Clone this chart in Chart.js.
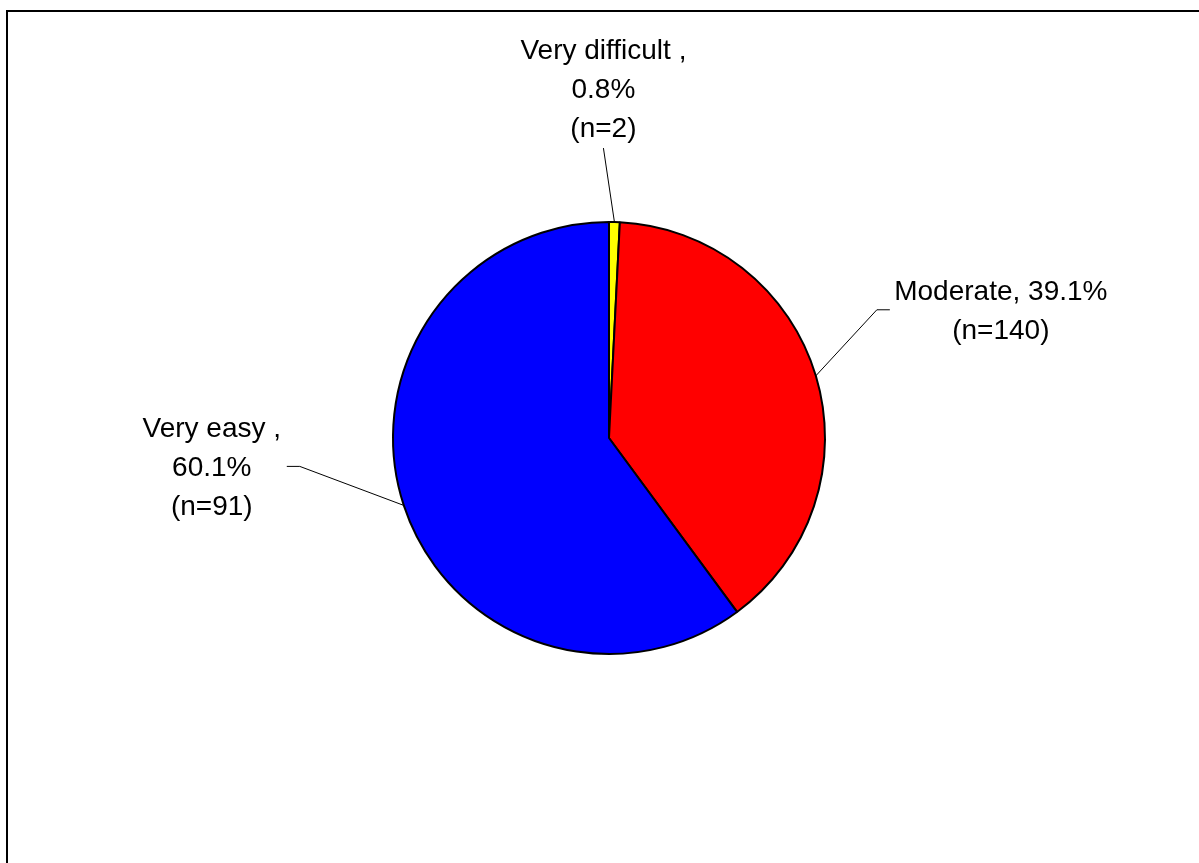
<!DOCTYPE html>
<html>
<head>
<meta charset="utf-8">
<title>Difficulty pie</title>
<script src="https://cdn.jsdelivr.net/npm/chart.js@4/dist/chart.umd.min.js"></script>
<style>
    html, body { margin: 0; padding: 0; background: #fff; }
    #chart { display: block; }
</style>
</head>
<body>
<canvas id="chart" width="1199" height="863"></canvas>
<script>
// Data (clockwise from 12 o'clock)
const categories = ['Very difficult', 'Moderate', 'Very easy'];
const percents = [0.8, 39.1, 60.1];
const counts = [2, 140, 91];
const sliceColors = ['#FFFF00', '#FF0000', '#0000FF'];

// How each label is split over lines
const labelLines = [
    ['Very difficult ,', '0.8%', '(n=2)'],
    ['Moderate, 39.1%', '(n=140)'],
    ['Very easy ,', '60.1%', '(n=91)']
];

// Leader/label placement, relative to the point where the slice's mid-angle meets the rim
// text = centre of the whole text block
const labelLayout = [
    { elbow: [-11, -74], tail: 0,   text: [-11, -132] },
    { elbow: [61, -66],  tail: 13,  text: [185, -64] },
    { elbow: [-104, -39], tail: -13, text: [-192, -37] }
];

const LINE_GAP = 39;
const FONT = '28px "Liberation Sans", Arial, sans-serif';

const frameAndLabels = {
    id: 'frameAndLabels',
    beforeDraw(chart) {
        const ctx = chart.ctx;
        ctx.save();
        ctx.fillStyle = '#fff';
        ctx.fillRect(0, 0, chart.width, chart.height);
        // outer frame, its right and bottom edges run off the picture
        ctx.strokeStyle = '#000';
        ctx.lineWidth = 2;
        ctx.strokeRect(7, 11, chart.width + 50, chart.height + 50);
        ctx.restore();
    },
    afterDraw(chart) {
        const ctx = chart.ctx;
        const arcs = chart.getDatasetMeta(0).data;
        ctx.save();
        ctx.font = FONT;
        ctx.fillStyle = '#000';
        ctx.strokeStyle = '#000';
        ctx.lineWidth = 1;
        ctx.textAlign = 'center';
        ctx.textBaseline = 'middle';

        arcs.forEach((arc, i) => {
            const p = arc.getProps(['x', 'y', 'startAngle', 'endAngle', 'outerRadius'], true);
            const mid = (p.startAngle + p.endAngle) / 2;
            const ex = p.x + Math.cos(mid) * p.outerRadius;
            const ey = p.y + Math.sin(mid) * p.outerRadius;
            const lay = labelLayout[i];

            const bx = ex + lay.elbow[0];
            const by = ey + lay.elbow[1];
            ctx.beginPath();
            ctx.moveTo(ex, ey);
            ctx.lineTo(bx, by);
            if (lay.tail) ctx.lineTo(bx + lay.tail, by);
            ctx.stroke();

            const lines = labelLines[i];
            const tx = ex + lay.text[0];
            const ty = ey + lay.text[1];
            const top = ty - (lines.length - 1) * LINE_GAP / 2;
            lines.forEach((t, k) => ctx.fillText(t, tx, top + k * LINE_GAP));
        });
        ctx.restore();
    }
};

new Chart(document.getElementById('chart'), {
    type: 'pie',
    data: {
        labels: categories,
        datasets: [{
            data: percents,
            backgroundColor: sliceColors,
            borderColor: '#000',
            borderWidth: 2
        }]
    },
    options: {
        responsive: false,
        animation: false,
        layout: { padding: { top: 221, bottom: 208, left: 392, right: 373 } },
        plugins: {
            legend: { display: false },
            tooltip: { enabled: false }
        }
    },
    plugins: [frameAndLabels]
});
</script>
</body>
</html>
